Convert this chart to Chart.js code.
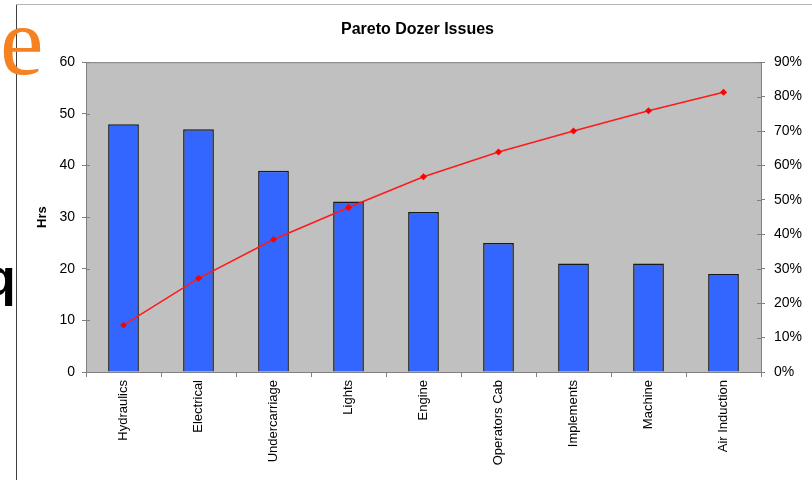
<!DOCTYPE html>
<html>
<head>
<meta charset="utf-8">
<title>Pareto Dozer Issues</title>
<script src="https://cdn.jsdelivr.net/npm/chart.js@4.4.1/dist/chart.umd.min.js"></script>
<style>
    html, body { margin: 0; padding: 0; background: #fff; }
    body { width: 812px; height: 480px; position: relative; overflow: hidden; }
    #paretoChart { position: absolute; left: 0; top: 0; z-index: 1; }
    /* bits of the slide behind the chart */
    .frame-v { position: absolute; left: 16px; top: 4px; width: 1px; height: 476px; background: #404040; }
    .frame-h { position: absolute; left: 16px; top: 4px; right: 0; height: 1px; background: #b4b4b4; }
    .frag-e {
        position: absolute; left: 0; top: -8px; z-index: 2;
        font-family: "Liberation Serif", "Times New Roman", serif;
        font-size: 98px; line-height: 98px; color: #f58220;
    }
    .frag-q {
        position: absolute; left: -16px; top: 251px; z-index: 2;
        font-family: "Liberation Sans", Arial, sans-serif; font-weight: bold;
        font-size: 52px; line-height: 52px; color: #000;
    }
</style>
</head>
<body>
<div class="frame-v"></div>
<div class="frame-h"></div>
<span class="frag-e">e</span>
<span class="frag-q">q</span>
<canvas id="paretoChart" width="812" height="480"></canvas>

<script>
// Chart data
const categories = ['Hydraulics', 'Electrical', 'Undercarriage', 'Lights', 'Engine',
    'Operators Cab', 'Implements', 'Machine', 'Air Induction'];
const hours = [48, 47, 39, 33, 31, 25, 21, 21, 19];
const cumulativePct = [13.6, 27.2, 38.5, 47.8, 56.7, 63.9, 70.0, 75.9, 81.3];
const hrsTicks = [0, 10, 20, 30, 40, 50, 60];
const pctTicks = [0, 10, 20, 30, 40, 50, 60, 70, 80, 90];

const axisGrey = '#808080';
Chart.defaults.font.family = 'Arial, "Liberation Sans", sans-serif';
Chart.defaults.color = '#000';

// Grey plot area, top border and the inner half of the y tick marks
const plotBackground = {
    id: 'plotBackground',
    beforeDraw(chart) {
        const { ctx, chartArea: a } = chart;
        ctx.save();
        ctx.fillStyle = '#c0c0c0';
        ctx.fillRect(a.left, a.top, a.right - a.left, a.bottom - a.top);
        ctx.restore();
    },
    afterDraw(chart) {
        const { ctx, chartArea: a, scales } = chart;
        ctx.save();
        ctx.strokeStyle = axisGrey;
        ctx.lineWidth = 1;
        ctx.beginPath();
        ctx.moveTo(a.left, a.top + 0.5);
        ctx.lineTo(a.right, a.top + 0.5);
        scales.y.ticks.forEach((t, i) => {
            const py = Math.round(scales.y.getPixelForTick(i)) + 0.5;
            ctx.moveTo(a.left, py);
            ctx.lineTo(a.left + 4, py);
        });
        scales.y1.ticks.forEach((t, i) => {
            const py = Math.round(scales.y1.getPixelForTick(i)) + 0.5;
            ctx.moveTo(a.right, py);
            ctx.lineTo(a.right - 4, py);
        });
        ctx.stroke();
        ctx.restore();
    }
};

function initializeChart() {
    const ctx = document.getElementById('paretoChart').getContext('2d');
    new Chart(ctx, {
        data: {
            labels: categories,
            datasets: [{
                type: 'line',
                label: 'Cumulative %',
                data: cumulativePct,
                yAxisID: 'y1',
                order: 0,
                borderColor: '#ff1a1a',
                borderWidth: 1.5,
                tension: 0,
                pointStyle: 'rectRot',
                pointRadius: 3.5,
                pointBackgroundColor: '#ff0000',
                pointBorderWidth: 0
            }, {
                type: 'bar',
                label: 'Hrs',
                data: hours,
                yAxisID: 'y',
                order: 1,
                backgroundColor: '#3366ff',
                borderColor: '#1a1a1a',
                borderWidth: 1.5,
                categoryPercentage: 1,
                barPercentage: 0.41
            }]
        },
        options: {
            responsive: false,
            animation: false,
            layout: { padding: { left: 23, right: 0, top: 0, bottom: 0 } },
            plugins: {
                legend: { display: false },
                tooltip: { enabled: false },
                title: {
                    display: true,
                    text: 'Pareto Dozer Issues',
                    color: '#000',
                    font: { size: 16, weight: 'bold' },
                    padding: { top: 20, bottom: 23 }
                }
            },
            scales: {
                x: {
                    grid: { offset: true, drawOnChartArea: false, tickLength: 5, color: axisGrey },
                    border: { color: axisGrey, width: 1 },
                    ticks: { minRotation: 90, maxRotation: 90, autoSkip: false, padding: 3, font: { size: 13 } },
                    afterFit(scale) { scale.height = 108; }
                },
                y: {
                    position: 'left',
                    min: hrsTicks[0],
                    max: hrsTicks[hrsTicks.length - 1],
                    ticks: { stepSize: 10, padding: 7, font: { size: 14 } },
                    grid: { drawOnChartArea: false, tickLength: 4, color: axisGrey },
                    border: { color: axisGrey, width: 1 },
                    title: {
                        display: true,
                        text: 'Hrs',
                        color: '#000',
                        font: { size: 13, weight: 'bold' },
                        padding: { top: 12, bottom: 0 }
                    },
                    afterFit(scale) { scale.width = 86 - 23; }
                },
                y1: {
                    position: 'right',
                    min: pctTicks[0],
                    max: pctTicks[pctTicks.length - 1],
                    ticks: {
                        stepSize: 10,
                        padding: 9,
                        font: { size: 14 },
                        callback: (value) => value + '%'
                    },
                    grid: { drawOnChartArea: false, tickLength: 4, color: axisGrey },
                    border: { color: axisGrey, width: 1 },
                    afterFit(scale) { scale.width = 812 - 761; }
                }
            }
        },
        plugins: [plotBackground]
    });
}

initializeChart();
</script>
</body>
</html>
